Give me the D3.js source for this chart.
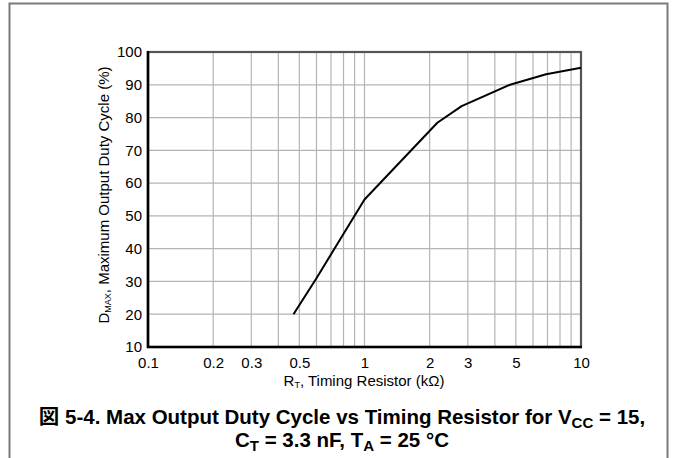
<!DOCTYPE html>
<html><head><meta charset="utf-8">
<script src="https://cdn.jsdelivr.net/npm/d3@7"></script>
<style>body{margin:0;background:#fff}svg{display:block}</style>
</head><body>
<svg id="c" width="676" height="458"></svg>
<script>
const rtValues = [0.47, 0.6, 1.0, 2.17, 2.81, 4.7, 6.9, 10];
const dmaxValues = [20, 31, 55, 78.4, 83.5, 90, 93.2, 95.2];
const xTickLabels = [0.1, 0.2, 0.3, 0.5, 1, 2, 3, 5, 10];
const xGridValues = [0.2,0.3,0.4,0.5,0.6,0.7,0.8,0.9,1,2,3,4,5,6,7,8,9];
const yTickLabels = [10,20,30,40,50,60,70,80,90,100];

const svg = d3.select("#c");
const L = 148, R = 581, T = 52, B = 347;
const x = d3.scaleLog().domain([0.1, 10]).range([L, R]);
const y = d3.scaleLinear().domain([10, 100]).range([B, T]);
const font = "'Liberation Sans', Arial, sans-serif";

// outer frame
svg.append("path").attr("d", "M9.5,458 V3.5 H667.5 V458")
  .attr("fill", "none").attr("stroke", "#7a7a7a").attr("stroke-width", 2);

// grid
const g = svg.append("g");
g.selectAll("line.v").data(xGridValues).join("line")
  .attr("x1", d => x(d)).attr("x2", d => x(d)).attr("y1", T).attr("y2", B)
  .attr("stroke", "#b4b4b4").attr("stroke-width", 1.2);
g.selectAll("line.h").data(yTickLabels.slice(1, -1)).join("line")
  .attr("x1", L).attr("x2", R).attr("y1", d => y(d)).attr("y2", d => y(d))
  .attr("stroke", "#b4b4b4").attr("stroke-width", 1.2);

// plot border
svg.append("rect").attr("x", L).attr("y", T).attr("width", R - L).attr("height", B - T)
  .attr("fill", "none").attr("stroke", "#555").attr("stroke-width", 2.2);
svg.append("path").attr("d", `M${L},${T-1} V${B} H${R+1}`)
  .attr("fill", "none").attr("stroke", "#000").attr("stroke-width", 2.6);

// axes labels via d3 axes
const xAxis = d3.axisBottom(x).tickValues(xTickLabels).tickSize(0).tickPadding(10)
  .tickFormat(d3.format("~g"));
const xa = svg.append("g").attr("transform", `translate(0,${B})`).call(xAxis);
xa.select(".domain").remove();
xa.selectAll("text").attr("font-family", font).attr("font-size", 15).attr("fill", "#000");

const yAxis = d3.axisLeft(y).tickValues(yTickLabels).tickSize(0).tickPadding(6);
const ya = svg.append("g").attr("transform", `translate(${L},0)`).call(yAxis);
ya.select(".domain").remove();
ya.selectAll("text").attr("font-family", font).attr("font-size", 15).attr("fill", "#000");

// line
const line = d3.line().x((d, i) => x(rtValues[i])).y(d => y(d));
svg.append("path").datum(dmaxValues).attr("d", line)
  .attr("fill", "none").attr("stroke", "#000").attr("stroke-width", 2).attr("stroke-linejoin", "round");

// x title
const xt = svg.append("text").attr("x", 364).attr("y", 386).attr("text-anchor", "middle")
  .attr("font-family", font).attr("font-size", 15);
xt.append("tspan").text("R");
xt.append("tspan").attr("font-size", 9).attr("dy", 2).text("T");
xt.append("tspan").attr("dy", -2).text(", Timing Resistor (kΩ)");

// y title
const yt = svg.append("text").attr("transform", `translate(109,195) rotate(-90)`)
  .attr("text-anchor", "middle").attr("font-family", font).attr("font-size", 15);
yt.append("tspan").text("D");
yt.append("tspan").attr("font-size", 9).attr("dy", 2).text("MAX");
yt.append("tspan").attr("dy", -2).text(", Maximum Output Duty Cycle (%)");

// caption
const capFont = "'Liberation Sans', Arial, 'Noto Sans CJK JP', sans-serif";
const c1 = svg.append("text").attr("x", 342).attr("y", 424).attr("text-anchor", "middle")
  .attr("font-family", capFont).attr("font-size", 20.5).attr("font-weight", "bold");
c1.append("tspan").attr("font-family", "'Noto Sans CJK JP'").text("図");
c1.append("tspan").text(" 5-4. Max Output Duty Cycle vs Timing Resistor for V");
c1.append("tspan").attr("font-size", 15).attr("dy", 4).text("CC");
c1.append("tspan").attr("dy", -4).text(" = 15,");
const c2 = svg.append("text").attr("x", 342).attr("y", 447).attr("text-anchor", "middle")
  .attr("font-family", capFont).attr("font-size", 20.5).attr("font-weight", "bold");
c2.append("tspan").text("C");
c2.append("tspan").attr("font-size", 15).attr("dy", 4).text("T");
c2.append("tspan").attr("dy", -4).text(" = 3.3 nF, T");
c2.append("tspan").attr("font-size", 15).attr("dy", 4).text("A");
c2.append("tspan").attr("dy", -4).text(" = 25 °C");
</script>
</body></html>
